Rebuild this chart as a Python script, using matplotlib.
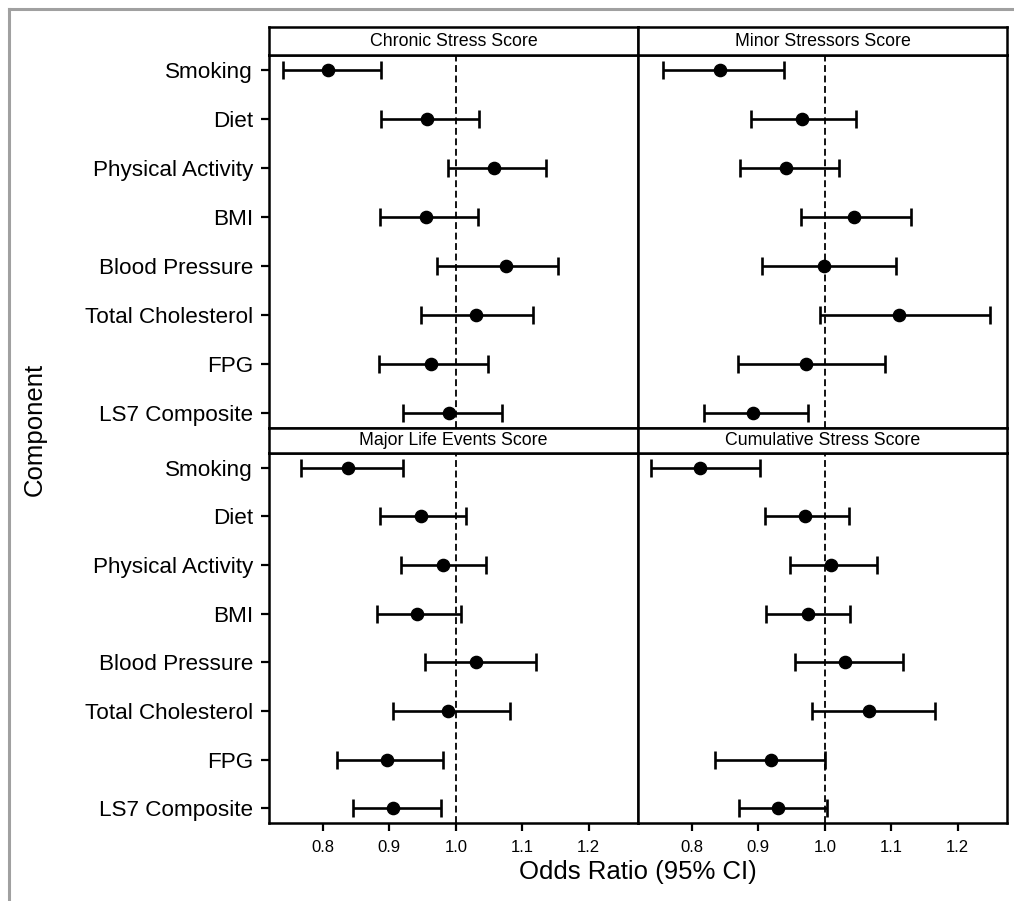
import matplotlib
matplotlib.use("Agg")
import matplotlib.pyplot as plt
from matplotlib.lines import Line2D
import numpy as np

plt.rcParams['font.family'] = ['Liberation Sans', 'DejaVu Sans']

components = ["Smoking", "Diet", "Physical Activity", "BMI", "Blood Pressure",
              "Total Cholesterol", "FPG", "LS7 Composite"]
panel_titles = ["Chronic Stress Score", "Minor Stressors Score",
                "Major Life Events Score", "Cumulative Stress Score"]

chronic_or = [0.808, 0.956, 1.057, 0.955, 1.075, 1.031, 0.962, 0.990]
chronic_lo = [0.740, 0.887, 0.988, 0.886, 0.971, 0.947, 0.884, 0.921]
chronic_hi = [0.888, 1.035, 1.135, 1.034, 1.154, 1.116, 1.049, 1.070]

minor_or = [0.843, 0.965, 0.942, 1.044, 0.999, 1.112, 0.972, 0.892]
minor_lo = [0.757, 0.889, 0.872, 0.964, 0.905, 0.992, 0.869, 0.819]
minor_hi = [0.938, 1.047, 1.021, 1.130, 1.107, 1.249, 1.090, 0.975]

major_or = [0.838, 0.947, 0.980, 0.941, 1.030, 0.988, 0.896, 0.906]
major_lo = [0.767, 0.886, 0.918, 0.882, 0.953, 0.906, 0.822, 0.845]
major_hi = [0.921, 1.015, 1.046, 1.008, 1.120, 1.082, 0.981, 0.977]

cumul_or = [0.812, 0.970, 1.010, 0.974, 1.031, 1.067, 0.919, 0.929]
cumul_lo = [0.738, 0.910, 0.948, 0.911, 0.955, 0.981, 0.835, 0.871]
cumul_hi = [0.902, 1.037, 1.078, 1.038, 1.118, 1.165, 1.000, 1.004]

x_ticks = [0.8, 0.9, 1.0, 1.1, 1.2]
x_ticklabels = ["0.8", "0.9", "1.0", "1.1", "1.2"]

panels = [
    (panel_titles[0], chronic_or, chronic_lo, chronic_hi),
    (panel_titles[1], minor_or, minor_lo, minor_hi),
    (panel_titles[2], major_or, major_lo, major_hi),
    (panel_titles[3], cumul_or, cumul_lo, cumul_hi),
]

W, H = 1014, 901
fig = plt.figure(figsize=(W / 100, H / 100), dpi=100)
fig.patch.set_facecolor("white")

def fx(px):
    return px / W

def fy(py):
    return 1 - py / H

# gray frame (top and left)
fig.add_artist(Line2D([fx(9), fx(9)], [fy(9), 0], transform=fig.transFigure,
                      color="#a0a0a0", lw=2.2))
fig.add_artist(Line2D([fx(9), 1], [fy(9), fy(9)], transform=fig.transFigure,
                      color="#a0a0a0", lw=2.2))

col_x = [(269, 638), (638, 1007)]
row_plot = [(55, 428), (453, 823)]
row_strip = [(27, 55), (428, 453)]

spine_lw = 1.8
xlim = (0.719, 1.274)
ypos = np.arange(len(components))

for i, (title, orv, lo, hi) in enumerate(panels):
    r, c = divmod(i, 2)
    x0, x1 = col_x[c]
    y0, y1 = row_plot[r]
    ax = fig.add_axes([fx(x0), fy(y1), fx(x1 - x0), (y1 - y0) / H])
    orv = np.array(orv); lo = np.array(lo); hi = np.array(hi)
    ax.axvline(1.0, color="black", lw=1.3, ls=(0, (3.8, 2)), zorder=1)
    ax.errorbar(orv, ypos, xerr=[orv - lo, hi - orv], fmt="o", color="black",
                ecolor="black", elinewidth=1.9, capsize=6.3, capthick=1.9,
                markersize=8.8, zorder=3)
    ax.set_xlim(*xlim)
    ax.set_ylim(len(components) - 1 + 0.3, -0.3)
    for s in ax.spines.values():
        s.set_linewidth(spine_lw)
    if c == 0:
        ax.set_yticks(ypos)
        ax.set_yticklabels(components, fontsize=16.2)
        ax.tick_params(axis="y", length=5.5, width=1.6, pad=6)
    else:
        ax.set_yticks([])
    if r == 1:
        ax.set_xticks(x_ticks)
        ax.set_xticklabels(x_ticklabels, fontsize=12)
        ax.tick_params(axis="x", length=5.5, width=1.6, pad=7)
    else:
        ax.set_xticks([])

    sy0, sy1 = row_strip[r]
    sax = fig.add_axes([fx(x0), fy(sy1), fx(x1 - x0), (sy1 - sy0) / H])
    sax.set_xticks([]); sax.set_yticks([])
    for s in sax.spines.values():
        s.set_linewidth(spine_lw)
    sax.text(0.5, 0.5, title, ha="center", va="center", fontsize=12.8,
             transform=sax.transAxes)

fig.text(fx(638), fy(872), "Odds Ratio (95% CI)", ha="center", va="center",
         fontsize=18.5)
fig.text(fx(35), fy(429), "Component", ha="center", va="center",
         rotation=90, fontsize=18.5)

fig.savefig("out.png", dpi=100)
